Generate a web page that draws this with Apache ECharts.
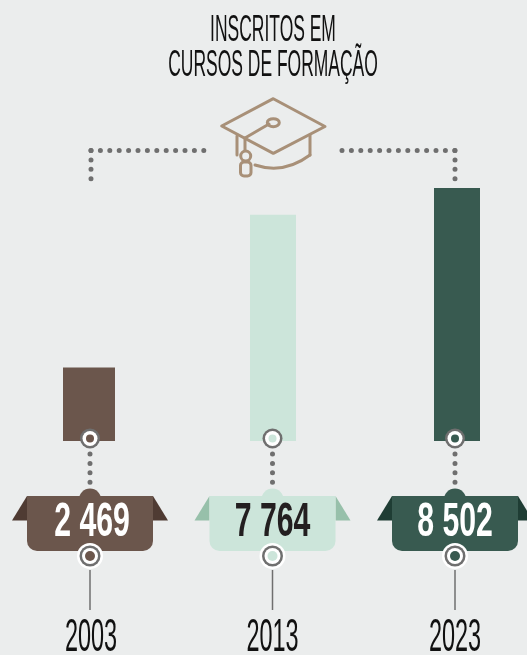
<!DOCTYPE html>
<html>
<head>
<meta charset="utf-8">
<script src="https://cdn.jsdelivr.net/npm/echarts@6/dist/echarts.min.js"></script>
<style>html,body{margin:0;padding:0;background:#ebeded}#c{width:527px;height:655px}</style>
</head>
<body>
<div id="c"></div>
<script>
// Data
const categories = ['2003', '2013', '2023'];
const values = [2469, 7764, 8502];
const valueLabels = ['2 469', '7 764', '8 502'];
// Bar lengths as drawn in the picture (the 2013 bar is drawn a little shorter than its label)
const barLengths = [2469, 7600, 8502];
const titleLines = ['INSCRITOS EM', 'CURSOS DE FORMAÇÃO'];

// Styles
const barColors = ['#6b564c', '#cce5da', '#385a50'];
const wingColors = ['#4f3b33', '#97c0aa', '#1f3d34'];
const textColors = ['#ffffff', '#231f20', '#ffffff'];
const barWidths = [52, 46, 46];
const barOffsets = [-1, 0.5, 2];
const labelOffsets = [2, 0, 0];
const GRAY = '#6f6f6f', ICON = '#a89078', FONT = '"Liberation Sans",sans-serif';

const dots = (pts) => ({
  type: 'polyline', silent: true,
  shape: { points: pts },
  style: { fill: null, stroke: GRAY, lineWidth: 5, lineCap: 'round', lineDash: [0, 9.4] }
});

function renderItem(params, api) {
  const i = api.value(0);
  const base = api.coord([i, 0]);
  const top = api.coord([i, api.value(1)]);
  const x = base[0];
  const c = barColors[i];
  const bx = x + barOffsets[i];
  const w = barWidths[i];
  const ribL = x - 63, ribR = x + 63, ribT = 496, ribB = 551, wingB = 520.5;
  return {
    type: 'group',
    children: [
      { type: 'rect', shape: { x: bx - w / 2, y: top[1], width: w, height: base[1] - top[1] }, style: { fill: c } },
      { type: 'circle', shape: { cx: x, cy: 438.5, r: 10 }, style: { fill: GRAY } },
      { type: 'circle', shape: { cx: x, cy: 438.5, r: 7.5 }, style: { fill: '#fff' } },
      { type: 'circle', shape: { cx: x, cy: 438.5, r: 4 }, style: { fill: c } },
      dots([[x, 454], [x, 484]]),
      { type: 'polygon', shape: { points: [[ribL, ribT], [ribL - 15, wingB], [ribL, wingB]] }, style: { fill: wingColors[i] } },
      { type: 'polygon', shape: { points: [[ribR, ribT], [ribR + 15, wingB], [ribR, wingB]] }, style: { fill: wingColors[i] } },
      { type: 'circle', shape: { cx: x, cy: 499.5, r: 11 }, style: { fill: c } },
      { type: 'rect', shape: { x: ribL, y: ribT, width: ribR - ribL, height: ribB - ribT, r: [0, 0, 10, 10] }, style: { fill: c } },
      { type: 'text', x: x + labelOffsets[i], y: 523, scaleX: 0.63, style: { text: valueLabels[i], fill: textColors[i], font: 'bold 48px ' + FONT, textAlign: 'center', textVerticalAlign: 'middle' } },
      { type: 'circle', shape: { cx: x, cy: 556, r: 13 }, style: { fill: '#fff' } },
      { type: 'circle', shape: { cx: x, cy: 556, r: 10.5 }, style: { fill: GRAY } },
      { type: 'circle', shape: { cx: x, cy: 556, r: 8 }, style: { fill: '#fff' } },
      { type: 'circle', shape: { cx: x, cy: 556, r: 5 }, style: { fill: c } },
      { type: 'line', shape: { x1: x, y1: 570, x2: x, y2: 610 }, style: { stroke: GRAY, lineWidth: 1.5 } },
      { type: 'text', x: x + labelOffsets[i] * 0.5, y: 638, scaleX: 0.51, style: { text: categories[i], fill: '#111', font: '46px ' + FONT, textAlign: 'center', textVerticalAlign: 'middle' } }
    ]
  };
}

const iconStyle = { fill: null, stroke: ICON, lineWidth: 3, lineJoin: 'round', lineCap: 'round' };
const titleEl = (t, y) => ({
  type: 'text', x: 273, y: y, scaleX: 0.485,
  style: { text: t, fill: '#111', font: '36px ' + FONT, textAlign: 'center', textVerticalAlign: 'middle' }
});

const chart = echarts.init(document.getElementById('c'), null, { renderer: 'canvas' });
chart.setOption({
  animation: false,
  backgroundColor: '#ebeded',
  grid: { outerBoundsMode: 'none', left: -1.25, width: 547.5, top: 188, height: 253 },
  xAxis: { type: 'category', data: categories, show: false },
  yAxis: { type: 'value', min: 0, max: 8502, show: false },
  series: [{
    type: 'custom',
    clip: false,
    silent: true,
    data: barLengths.map((v, i) => [i, v, values[i]]),
    encode: { x: 0, y: 1 },
    renderItem: renderItem
  }],
  graphic: [
    titleEl(titleLines[0], 31.5),
    titleEl(titleLines[1], 66),
    dots([[91, 150.5], [204, 150.5]]),
    dots([[91, 150.5], [91, 180]]),
    dots([[342, 150.5], [456, 150.5]]),
    dots([[455, 150.5], [455, 180]]),
    { type: 'polygon', shape: { points: [[273.3, 98.7], [325, 126.5], [273.3, 153.3], [221.7, 126]] }, style: iconStyle },
    { type: 'polyline', shape: { points: [[245, 138], [269, 124]] }, style: iconStyle },
    { type: 'ellipse', shape: { cx: 273.3, cy: 122.7, rx: 6, ry: 4 }, style: iconStyle },
    { type: 'polyline', shape: { points: [[310, 135], [310, 155]] }, style: iconStyle },
    { type: 'bezierCurve', shape: { x1: 310, y1: 155, cpx1: 290, cpy1: 170, cpx2: 270, cpy2: 170, x2: 255, y2: 165 }, style: iconStyle },
    { type: 'polyline', shape: { points: [[237, 136], [237, 155]] }, style: iconStyle },
    { type: 'polyline', shape: { points: [[245, 138], [245, 150]] }, style: iconStyle },
    { type: 'circle', shape: { cx: 245.7, cy: 156, r: 5 }, style: iconStyle },
    { type: 'rect', shape: { x: 240.5, y: 162, width: 10.5, height: 14, r: 3.5 }, style: iconStyle }
  ]
});
</script>
</body>
</html>
